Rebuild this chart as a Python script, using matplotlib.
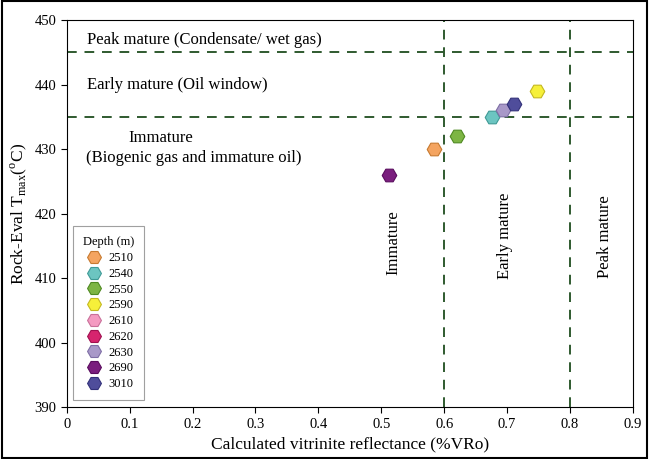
import matplotlib
matplotlib.use("Agg")
import matplotlib.pyplot as plt
from matplotlib.patches import Rectangle
from matplotlib.ticker import FuncFormatter

plt.rcParams['font.family'] = ['Liberation Serif', 'DejaVu Serif']

# depth samples: calculated VRo vs Tmax
depths = ["2510", "2540", "2550", "2590", "2610", "2620", "2630", "2690", "3010"]
vro = [0.584, 0.676, 0.620, 0.747, None, None, 0.693, 0.512, 0.711]
tmax = [430, 435, 432, 439, None, None, 436, 426, 437]
colors = ["#F4A460", "#6CC5C1", "#7DB544", "#F6F03A", "#F49AC1",
          "#D6246E", "#A898C8", "#7A1E7E", "#4F4D9B"]
edges = ["#C77A30", "#3F9A96", "#4F8A22", "#C4B820", "#C9709A",
         "#A01050", "#7E6EA5", "#5A0C5E", "#33317A"]

fig = plt.figure(figsize=(6.49, 4.59), dpi=100)
ax = fig.add_axes([0.103, 0.113, 0.872, 0.843])

for d, x, y, c, e in zip(depths, vro, tmax, colors, edges):
    xs = [] if x is None else [x]
    ys = [] if y is None else [y]
    ax.plot(xs, ys, linestyle="none", marker="H", markersize=10.5,
            markerfacecolor=c, markeredgecolor=e, markeredgewidth=0.8,
            label=d, zorder=3)

lc = "#2F5A2F"
for yy in [445, 435]:
    ax.axhline(yy, color=lc, linestyle=(0, (5, 4)), linewidth=1.4, zorder=1)
for xx in [0.6, 0.8]:
    ax.axvline(xx, color=lc, linestyle=(0, (5, 4)), linewidth=1.4, zorder=1)

ax.set_xlim(0, 0.9)
ax.set_ylim(390, 450)
ax.set_xticks([i / 10 for i in range(10)])
ax.set_yticks(range(390, 451, 10))
ax.xaxis.set_major_formatter(FuncFormatter(lambda v, p: "0" if v == 0 else "%g" % v))
ax.tick_params(direction="out", labelsize=10.5, length=4)

ax.set_xlabel("Calculated vitrinite reflectance (%VRo)", fontsize=12.5)
ax.set_ylabel(r"Rock-Eval T$_{\mathregular{max}}$($^{\mathregular{o}}$C)", fontsize=12.5)

ax.text(0.032, 446.9, "Peak mature (Condensate/ wet gas)", fontsize=12, va="center")
ax.text(0.032, 439.9, "Early mature (Oil window)", fontsize=12, va="center")
ax.text(0.15, 431.8, "Immature", fontsize=12, va="center", ha="center")
ax.text(0.03, 428.6, "(Biogenic gas and immature oil)", fontsize=12, va="center")
ax.text(0.52, 415.5, "Immature", fontsize=12, rotation=90, va="center", ha="center")
ax.text(0.697, 416.5, "Early mature", fontsize=12, rotation=90, va="center", ha="center")
ax.text(0.856, 416.5, "Peak mature", fontsize=12, rotation=90, va="center", ha="center")

leg = ax.legend(loc="lower left", bbox_to_anchor=(0.0106, 0.018), title="Depth (m)",
                fontsize=9, title_fontsize=9, frameon=True, fancybox=False,
                edgecolor="#888888", labelspacing=0.3, handletextpad=0.35,
                borderpad=0.8, borderaxespad=0, handlelength=1.6, markerscale=0.95)
leg.get_frame().set_linewidth(0.8)

fig.patches.append(Rectangle((0.003, 0.003), 0.994, 0.994, transform=fig.transFigure,
                             fill=False, edgecolor="black", linewidth=1.5))

fig.savefig("out.png", dpi=100)
